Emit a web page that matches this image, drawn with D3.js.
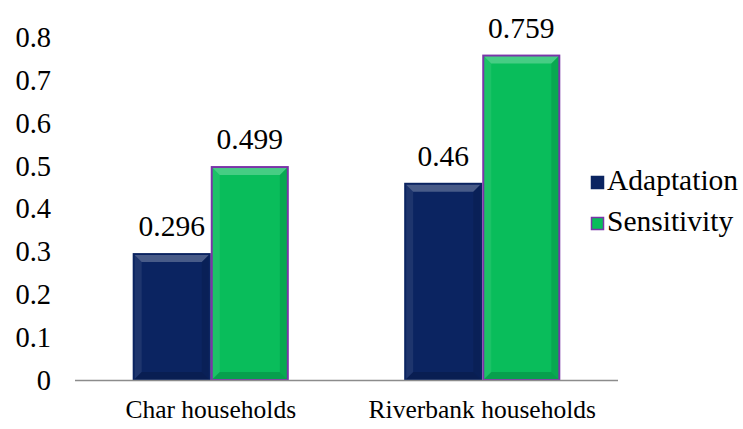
<!DOCTYPE html>
<html>
<head>
<meta charset="utf-8">
<script src="https://cdn.jsdelivr.net/npm/d3@7"></script>
<style>
  html, body { margin: 0; padding: 0; background: #fff; }
</style>
</head>
<body>
<svg id="chart" width="743" height="429" font-family="Liberation Serif"></svg>
<script>
// Household groups and the two index series
const categories = ["Char households", "Riverbank households"];
const seriesNames = ["Adaptation", "Sensitivity"];
const adaptation = [0.296, 0.46];
const sensitivity = [0.499, 0.759];
const yTicks = [0, 0.1, 0.2, 0.3, 0.4, 0.5, 0.6, 0.7, 0.8];

const fills = { Adaptation: "#0b2461", Sensitivity: "#09bd5b" };
const strokes = { Adaptation: "#0b2461", Sensitivity: "#7a35a8" };

const svg = d3.select("#chart");
const plot = { left: 75, right: 618, top: 37, bottom: 380 };

const x0 = d3.scaleBand().domain(categories).range([plot.left, plot.right]).paddingInner(0.425).paddingOuter(0.2125);
const x1 = d3.scaleBand().domain(seriesNames).range([0, x0.bandwidth()]).padding(0);
const y = d3.scaleLinear().domain([0, 0.8]).range([plot.bottom, plot.top]);

const rows = categories.map((c, i) => ({
  category: c,
  values: [
    { name: "Adaptation", value: adaptation[i] },
    { name: "Sensitivity", value: sensitivity[i] }
  ]
}));

function styleText(sel, size) {
  return sel.attr("font-family", "Liberation Serif").attr("font-size", size).attr("fill", "#000");
}

// Y axis labels only (no line, no gridlines)
const yAxis = d3.axisLeft(y).tickValues(yTicks).tickSize(0).tickPadding(0)
  .tickFormat(d => d === 0 ? "0" : d3.format(".1f")(d));
const gy = svg.append("g").attr("transform", `translate(${plot.left - 24},0)`).call(yAxis);
gy.select(".domain").remove();
gy.attr("font-family", "Liberation Serif").attr("font-size", 28.5);
styleText(gy.selectAll("text"), 28.5).attr("dy", "0.33em");

// Bars with a bevelled look
const groups = svg.selectAll("g.group").data(rows).enter().append("g")
  .attr("class", "group")
  .attr("transform", d => `translate(${x0(d.category)},0)`);

groups.each(function(row) {
  const g = d3.select(this);
  row.values.forEach(v => {
    const bx = x1(v.name), bw = x1.bandwidth();
    const by = y(v.value), bh = y(0) - y(v.value);
    const b = 7;
    g.append("rect").attr("x", bx + 1).attr("y", by + 1).attr("width", bw - 2).attr("height", bh - 1)
      .attr("fill", fills[v.name]).attr("stroke", strokes[v.name]).attr("stroke-width", 2);
    const L = bx + 2, R = bx + bw - 2, T = by + 2, B = y(0) - 1;
    // top bevel (light)
    g.append("path").attr("d", `M${L},${T}L${R},${T}L${R - b},${T + b}L${L + b},${T + b}Z`).attr("fill", "#fff").attr("opacity", 0.25);
    // left bevel
    g.append("path").attr("d", `M${L},${T}L${L + b},${T + b}L${L + b},${B - b}L${L},${B}Z`).attr("fill", "#fff").attr("opacity", 0.08);
    // right bevel (dark)
    g.append("path").attr("d", `M${R},${T}L${R},${B}L${R - b},${B - b}L${R - b},${T + b}Z`).attr("fill", "#000").attr("opacity", 0.1);
    // bottom bevel
    g.append("path").attr("d", `M${L},${B}L${R},${B}L${R - b},${B - b}L${L + b},${B - b}Z`).attr("fill", "#000").attr("opacity", 0.15);
    // value label
    styleText(g.append("text"), 29.5).attr("x", bx + bw / 2).attr("y", by - 17)
      .attr("text-anchor", "middle").text(v.value);
  });
});

// X axis baseline
svg.append("line").attr("x1", plot.left).attr("x2", plot.right).attr("y1", plot.bottom + 0.5).attr("y2", plot.bottom + 0.5)
  .attr("stroke", "#8c8c8c").attr("stroke-width", 1.5);

// Category labels
styleText(svg.selectAll("text.cat").data(categories).enter().append("text"), 25.5)
  .attr("class", "cat")
  .attr("x", d => x0(d) + x0.bandwidth() / 2)
  .attr("y", 418)
  .attr("text-anchor", "middle").text(d => d);

// Legend
const legend = svg.append("g").attr("transform", "translate(591,0)");
seriesNames.forEach((s, i) => {
  const ly = 176 + i * 41;
  legend.append("rect").attr("x", 0.5).attr("y", ly + 0.5).attr("width", 12).attr("height", 12)
    .attr("fill", fills[s]).attr("stroke", strokes[s]).attr("stroke-width", 1.5);
  styleText(legend.append("text"), 29.5).attr("x", 16).attr("y", ly + 14).text(s);
});
</script>
</body>
</html>
